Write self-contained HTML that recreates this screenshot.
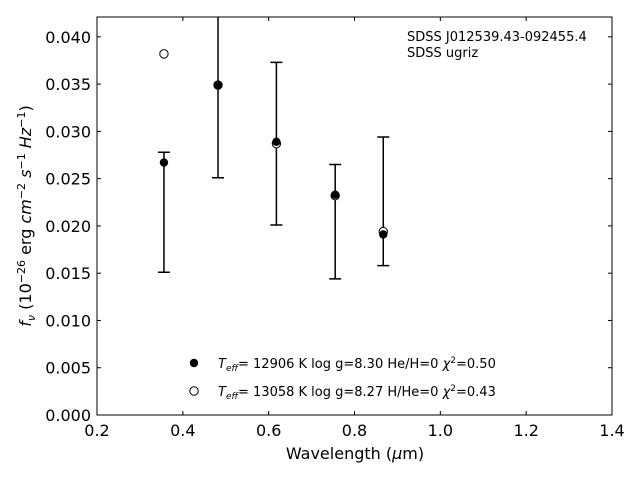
<!DOCTYPE html>
<html><head><meta charset="utf-8"><style>
body{margin:0;background:#fff;}
svg text{font-family:"DejaVu Sans","Liberation Sans",sans-serif;fill:#000;}
</style></head><body>
<svg id="c" width="640" height="480" xmlns="http://www.w3.org/2000/svg">
<defs><clipPath id="clip"><rect x="97" y="17" width="515" height="398"/></clipPath></defs>
<g id="ticks"></g>
<g id="marks" clip-path="url(#clip)"></g>
<rect x="97" y="17" width="515" height="398" fill="none" stroke="#000" stroke-width="1"/>
<text x="407" y="41" font-size="13">SDSS J012539.43-092455.4</text>
<text x="407" y="57" font-size="13">SDSS ugriz</text>
<text x="355" y="459" font-size="16" text-anchor="middle">Wavelength (<tspan font-style="italic">μ</tspan>m)</text>
<text transform="translate(31,216) rotate(-90)" font-size="16" text-anchor="middle"><tspan font-style="italic">f<tspan font-size="11" dy="4">ν</tspan></tspan><tspan dy="-4"> (10</tspan><tspan font-size="11" dy="-6">−26</tspan><tspan dy="6"> erg </tspan><tspan font-style="italic">cm</tspan><tspan font-size="11" dy="-6">−2</tspan><tspan dy="6"> </tspan><tspan font-style="italic">s</tspan><tspan font-size="11" dy="-6">−1</tspan><tspan dy="6"> </tspan><tspan font-style="italic">Hz</tspan><tspan font-size="11" dy="-6">−1</tspan><tspan dy="6">)</tspan></text>
<g>
<circle cx="194" cy="363" r="4.2" fill="#000"/>
<text x="218" y="368" font-size="13"><tspan font-style="italic">T</tspan><tspan font-size="9" dy="3" font-style="italic">eff</tspan><tspan dy="-3">= 12906 K  log g=8.30  He/H=0  </tspan><tspan font-style="italic">χ</tspan><tspan font-size="9" dy="-5">2</tspan><tspan dy="5">=0.50</tspan></text>
<circle cx="194" cy="391" r="4.2" fill="#fff" stroke="#000"/>
<text x="218" y="396" font-size="13"><tspan font-style="italic">T</tspan><tspan font-size="9" dy="3" font-style="italic">eff</tspan><tspan dy="-3">= 13058 K  log g=8.27  H/He=0  </tspan><tspan font-style="italic">χ</tspan><tspan font-size="9" dy="-5">2</tspan><tspan dy="5">=0.43</tspan></text>
</g>
</svg>
<script>
const wavelengths=[0.356,0.482,0.618,0.755,0.867];
const observed=[0.0267,0.0349,0.0289,0.0233,0.0191];
const errLow=[0.0151,0.0251,0.0201,0.0144,0.0158];
const errHigh=[0.0278,0.0450,0.0373,0.0265,0.0294];
const modelH=[0.0382,0.0349,0.0287,0.0232,0.0194];
const xTicks=[0.2,0.4,0.6,0.8,1.0,1.2,1.4];
const yTicks=[0,0.005,0.010,0.015,0.020,0.025,0.030,0.035,0.040];
const X0=97,X1=612,Y0=415,Y1=17,xmin=0.2,xmax=1.4,ymin=0,ymax=0.0421;
const sx=v=>X0+(v-xmin)/(xmax-xmin)*(X1-X0);
const sy=v=>Y0-(v-ymin)/(ymax-ymin)*(Y0-Y1);
const NS="http://www.w3.org/2000/svg";
function mk(t,a,p){const e=document.createElementNS(NS,t);for(const k in a)e.setAttribute(k,a[k]);p.appendChild(e);return e;}
const tg=document.getElementById('ticks'),mg=document.getElementById('marks');
xTicks.forEach(v=>{const x=sx(v);
const a=mk('line',{x1:x,x2:x,y1:Y0,y2:Y0-4,stroke:'#000'},tg);


const b=mk('line',{x1:x,x2:x,y1:Y1,y2:Y1+4,stroke:'#000'},tg);


const t=mk('text',{x:x,y:Y0+21,'font-size':16,'text-anchor':'middle'},tg);t.textContent=v.toFixed(1);

});
yTicks.forEach(v=>{const y=sy(v);
const a=mk('line',{x1:X0,x2:X0+4,y1:y,y2:y,stroke:'#000'},tg);


const b=mk('line',{x1:X1,x2:X1-4,y1:y,y2:y,stroke:'#000'},tg);


const t=mk('text',{x:X0-6,y:y+6,'font-size':16,'text-anchor':'end'},tg);t.textContent=v.toFixed(3);

});
wavelengths.forEach((w,i)=>{const x=sx(w);
const e=mk('path',{d:`M${x},${sy(errLow[i])}V${sy(errHigh[i])}M${x-6},${sy(errLow[i])}H${x+6}M${x-6},${sy(errHigh[i])}H${x+6}`,stroke:'#000','stroke-width':1.5,fill:'none'},mg);


const o=mk('circle',{cx:x,cy:sy(modelH[i]),r:4.2,fill:'#fff',stroke:'#000'},mg);


const f=mk('circle',{cx:x,cy:sy(observed[i]),r:4.2,fill:'#000'},mg);

});
</script>
</body></html>
